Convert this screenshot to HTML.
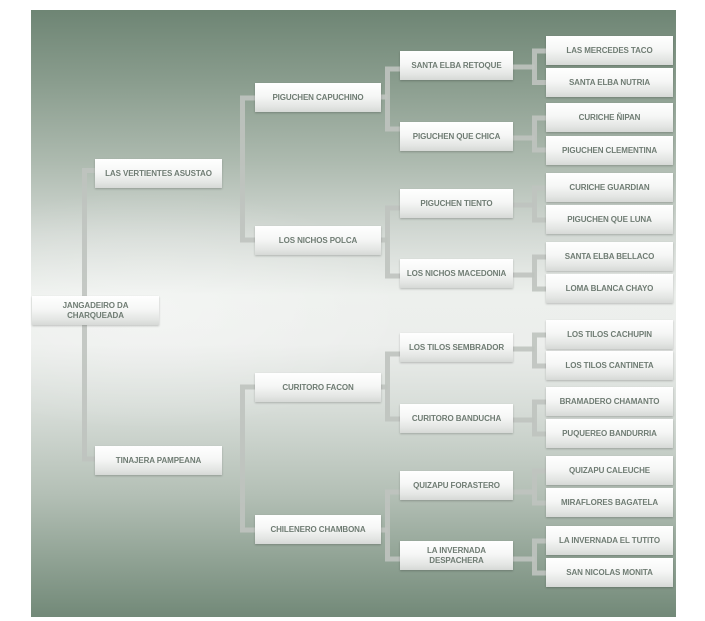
<!DOCTYPE html>
<html><head><meta charset="utf-8"><style>
html,body{margin:0;padding:0;background:#fff;}
body{width:705px;height:621px;position:relative;overflow:hidden;font-family:"Liberation Sans",Arial,sans-serif;}
#panel{position:absolute;left:31px;top:10px;width:645px;height:607px;
background:linear-gradient(to bottom,#6e8574 0%,#8a9d8e 12%,#adbaaf 25%,#d3d9d4 37%,#edf0ed 47%,#eceeec 55%,#d6dcd7 66%,#b3bfb5 80%,#92a496 90%,#728978 100%);}
#glow{position:absolute;left:31px;top:10px;width:645px;height:607px;
background:radial-gradient(ellipse 260px 120px at 120px 300px,rgba(255,255,255,0.35),rgba(255,255,255,0));}
svg{position:absolute;left:0;top:0;}
.b{position:absolute;height:29px;display:flex;align-items:center;justify-content:center;text-align:center;
background:linear-gradient(to bottom,#ffffff 0%,#f6f7f6 45%,#e4e6e4 80%,#d6d9d6 100%);
box-shadow:0 1px 2px rgba(0,0,0,0.22);color:#6f7c73;font-weight:bold;font-size:8px;line-height:10px;letter-spacing:-0.1px;}
.l0{left:32px;width:127px;}
.l1{left:95px;width:127px;}
.l2{left:255px;width:126px;}
.l3{left:400px;width:113px;}
.l4{left:546px;width:127px;}
</style></head><body>
<div id="panel"></div>
<div id="glow"></div>
<svg width="705" height="621" viewBox="0 0 705 621">
<g stroke="#bfc3bf" stroke-opacity="0.9" stroke-width="5" fill="none" stroke-linecap="butt">
<!-- root -->
<path d="M95 170.5 H84.5 V459 H95"/>
<!-- level1 -> level2 -->
<path d="M255 98 H242.5 V240 H255"/>
<path d="M255 387 H242.5 V530 H255"/>
<!-- level2 -> level3 -->
<path d="M381 97 H387.5"/>
<path d="M400 69 H387.5 V129 H400"/>
<path d="M381 240 H387.5"/>
<path d="M400 208 H387.5 V276 H400"/>
<path d="M381 387 H387.5"/>
<path d="M400 354 H387.5 V419 H400"/>
<path d="M381 530 H387.5"/>
<path d="M400 492 H387.5 V559 H400"/>
<!-- level3 -> level4 -->
<path d="M513 67 H534.5"/><path d="M546 51 H534.5 V82.5 H546"/>
<path d="M513 138 H534.5"/><path d="M546 118 H534.5 V150 H546"/>
<path d="M513 205 H534.5"/><path d="M546 188 H534.5 V220 H546"/>
<path d="M513 275 H534.5"/><path d="M546 257 H534.5 V289 H546"/>
<path d="M513 349 H534.5"/><path d="M546 335 H534.5 V366 H546"/>
<path d="M513 420 H534.5"/><path d="M546 402 H534.5 V434 H546"/>
<path d="M513 492 H534.5"/><path d="M546 471 H534.5 V503 H546"/>
<path d="M513 559 H534.5"/><path d="M546 541 H534.5 V573 H546"/>
</g>
</svg>

<div class="b l0" style="top:296px;">JANGADEIRO DA<br>CHARQUEADA</div>

<div class="b l1" style="top:159px;">LAS VERTIENTES ASUSTAO</div>
<div class="b l1" style="top:446px;">TINAJERA PAMPEANA</div>

<div class="b l2" style="top:83px;">PIGUCHEN CAPUCHINO</div>
<div class="b l2" style="top:226px;">LOS NICHOS POLCA</div>
<div class="b l2" style="top:373px;">CURITORO FACON</div>
<div class="b l2" style="top:515px;">CHILENERO CHAMBONA</div>

<div class="b l3" style="top:51px;">SANTA ELBA RETOQUE</div>
<div class="b l3" style="top:122px;">PIGUCHEN QUE CHICA</div>
<div class="b l3" style="top:189px;">PIGUCHEN TIENTO</div>
<div class="b l3" style="top:259px;">LOS NICHOS MACEDONIA</div>
<div class="b l3" style="top:333px;">LOS TILOS SEMBRADOR</div>
<div class="b l3" style="top:404px;">CURITORO BANDUCHA</div>
<div class="b l3" style="top:471px;">QUIZAPU FORASTERO</div>
<div class="b l3" style="top:541px;">LA INVERNADA<br>DESPACHERA</div>

<div class="b l4" style="top:36px;">LAS MERCEDES TACO</div>
<div class="b l4" style="top:68px;">SANTA ELBA NUTRIA</div>
<div class="b l4" style="top:103px;">CURICHE ÑIPAN</div>
<div class="b l4" style="top:136px;">PIGUCHEN CLEMENTINA</div>
<div class="b l4" style="top:173px;">CURICHE GUARDIAN</div>
<div class="b l4" style="top:205px;">PIGUCHEN QUE LUNA</div>
<div class="b l4" style="top:242px;">SANTA ELBA BELLACO</div>
<div class="b l4" style="top:274px;">LOMA BLANCA CHAYO</div>
<div class="b l4" style="top:320px;">LOS TILOS CACHUPIN</div>
<div class="b l4" style="top:351px;">LOS TILOS CANTINETA</div>
<div class="b l4" style="top:387px;">BRAMADERO CHAMANTO</div>
<div class="b l4" style="top:419px;">PUQUEREO BANDURRIA</div>
<div class="b l4" style="top:456px;">QUIZAPU CALEUCHE</div>
<div class="b l4" style="top:488px;">MIRAFLORES BAGATELA</div>
<div class="b l4" style="top:526px;">LA INVERNADA EL TUTITO</div>
<div class="b l4" style="top:558px;">SAN NICOLAS MONITA</div>
</body></html>
